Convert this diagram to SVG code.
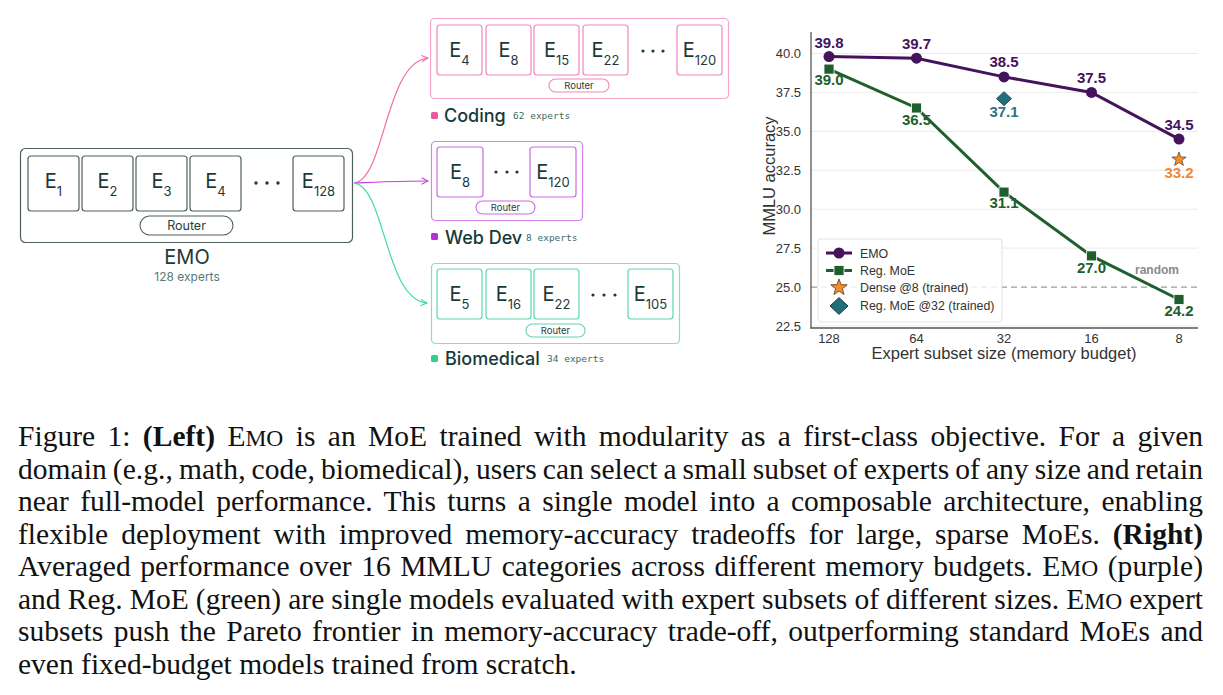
<svg xmlns="http://www.w3.org/2000/svg" width="1223" height="695" viewBox="0 0 1223 695">
<style>
.ex{fill:#fff;stroke-width:1.2}
.et{font-family:Inter,"Noto Sans",sans-serif;font-size:20px;fill:#1d3a38;text-anchor:middle}
.sub{font-size:13px}
.rt{font-family:Inter,"Noto Sans",sans-serif;fill:#2a3d3b;text-anchor:middle}
.lab{font-family:Inter,"Noto Sans",sans-serif;font-size:18px;fill:#163a38;font-weight:500}
.mono{font-family:"DejaVu Sans Mono","Liberation Mono",monospace;font-size:9.5px;fill:#3b6a66}
.ax{font-family:"Liberation Sans",Arial,sans-serif;fill:#333}
.tk{font-size:13px}
.vl{font-family:"Liberation Sans",Arial,sans-serif;font-size:15px;font-weight:bold;text-anchor:middle}
.grid{stroke:#ebebeb;stroke-width:1}
.cap{font-family:"Liberation Serif","Times New Roman",serif;font-size:29.5px;fill:#111}
.sc{font-size:23.5px}
</style>
<defs>
<marker id="ah" viewBox="0 0 10 10" refX="9" refY="5" markerWidth="8" markerHeight="8" markerUnits="userSpaceOnUse" orient="auto">
<path d="M1,1 L9,5 L1,9" fill="none" stroke="context-stroke" stroke-width="1.3"/>
</marker>
<path id="star" d="M0,-7.5 L1.82,-2.51 L7.13,-2.32 L2.95,0.96 L4.41,6.07 L0,3.1 L-4.41,6.07 L-2.95,0.96 L-7.13,-2.32 L-1.82,-2.51 Z" fill="#f28c2c" stroke="#5a3a1a" stroke-width="0.7"/>
<path id="dia" d="M0,-7 L7.5,0 L0,7 L-7.5,0 Z" fill="#226f7c" stroke="#163c40" stroke-width="0.8"/>
</defs>
<rect width="1223" height="695" fill="#fff"/>

<g id="connectors" fill="none" stroke-width="1.2">
<path d="M354,183 C385,180 385,62 428,58" stroke="#f06aa8" marker-end="url(#ah)"/>
<path d="M354,183 C380,182 400,181 428,181" stroke="#c040e0" marker-end="url(#ah)"/>
<path d="M354,183 C385,186 385,300 427,303" stroke="#3ddca0" marker-end="url(#ah)"/>
</g>

<g id="emo">
<rect x="20.5" y="148.5" width="332" height="94" rx="5" fill="#fff" stroke="#4f605d" stroke-width="1.2"/>
<g stroke="#4f605d">
<rect class="ex" x="28" y="156" width="51" height="55" rx="3"/>
<rect class="ex" x="82" y="156" width="51" height="55" rx="3"/>
<rect class="ex" x="136" y="156" width="51" height="55" rx="3"/>
<rect class="ex" x="190" y="156" width="51" height="55" rx="3"/>
<rect class="ex" x="293" y="156" width="51" height="55" rx="3"/>
</g>
<text class="et" x="53.5" y="188">E<tspan class="sub" dy="8">1</tspan></text>
<text class="et" x="107.5" y="188">E<tspan class="sub" dy="8">2</tspan></text>
<text class="et" x="161.5" y="188">E<tspan class="sub" dy="8">3</tspan></text>
<text class="et" x="215.5" y="188">E<tspan class="sub" dy="8">4</tspan></text>
<text class="et" x="318.5" y="188">E<tspan class="sub" dy="8">128</tspan></text>
<g fill="#1d3a38"><circle cx="256" cy="183" r="1.7"/><circle cx="267" cy="183" r="1.7"/><circle cx="278" cy="183" r="1.7"/></g>
<rect x="140" y="216" width="93" height="19" rx="9.5" fill="#fff" stroke="#4f605d" stroke-width="1.1"/>
<text class="rt" x="186.5" y="229.5" font-size="12.5">Router</text>
<text x="187" y="264" font-family="Inter,'Noto Sans',sans-serif" font-size="20" fill="#1d3a38" text-anchor="middle">EMO</text>
<text x="187" y="281" font-family="Inter,'Noto Sans',sans-serif" font-size="12" fill="#5a7875" text-anchor="middle">128 experts</text>
</g>

<g id="coding">
<rect x="430.5" y="18.5" width="298" height="80" rx="4" fill="#fff" stroke="#f5a5ca" stroke-width="1.2"/>
<g stroke="#ef88b9">
<rect class="ex" x="437" y="25" width="45" height="50" rx="3"/>
<rect class="ex" x="486" y="25" width="45" height="50" rx="3"/>
<rect class="ex" x="534" y="25" width="45" height="50" rx="3"/>
<rect class="ex" x="583" y="25" width="45" height="50" rx="3"/>
<rect class="ex" x="677" y="25" width="45" height="50" rx="3"/>
</g>
<text class="et" x="459.5" y="57">E<tspan class="sub" dy="8">4</tspan></text>
<text class="et" x="508.5" y="57">E<tspan class="sub" dy="8">8</tspan></text>
<text class="et" x="556.5" y="57">E<tspan class="sub" dy="8">15</tspan></text>
<text class="et" x="605.5" y="57">E<tspan class="sub" dy="8">22</tspan></text>
<text class="et" x="699.5" y="57">E<tspan class="sub" dy="8">120</tspan></text>
<g fill="#1d3a38"><circle cx="643" cy="51" r="1.6"/><circle cx="653" cy="51" r="1.6"/><circle cx="663" cy="51" r="1.6"/></g>
<rect x="549" y="79" width="60" height="13" rx="6.5" fill="#fff" stroke="#ef88b9" stroke-width="1.1"/>
<text class="rt" x="579" y="89" font-size="9.5">Router</text>
<rect x="431" y="112" width="7" height="7" rx="1.5" fill="#e95b9c"/>
<text class="lab" x="444" y="122">Coding</text>
<text class="mono" x="513" y="119">62 experts</text>
</g>

<g id="webdev">
<rect x="431.5" y="141.5" width="151" height="79" rx="4" fill="#fff" stroke="#d680ea" stroke-width="1.2"/>
<g stroke="#c96ce2">
<rect class="ex" x="437" y="147" width="46" height="50" rx="3"/>
<rect class="ex" x="530" y="147" width="46" height="50" rx="3"/>
</g>
<text class="et" x="460" y="179">E<tspan class="sub" dy="8">8</tspan></text>
<text class="et" x="553" y="179">E<tspan class="sub" dy="8">120</tspan></text>
<g fill="#1d3a38"><circle cx="496" cy="172" r="1.6"/><circle cx="507" cy="172" r="1.6"/><circle cx="517" cy="172" r="1.6"/></g>
<rect x="476" y="201" width="59" height="13" rx="6.5" fill="#fff" stroke="#c96ce2" stroke-width="1.1"/>
<text class="rt" x="505.5" y="211" font-size="9.5">Router</text>
<rect x="431" y="233" width="7" height="7" rx="1.5" fill="#b52fd8"/>
<text class="lab" x="445" y="244">Web Dev</text>
<text class="mono" x="526" y="241">8 experts</text>
</g>

<g id="biomedical">
<rect x="431.5" y="263.5" width="248" height="80" rx="4" fill="#fff" stroke="#80e2c2" stroke-width="1.2"/>
<g stroke="#5fd6ad">
<rect class="ex" x="437" y="269" width="45" height="50" rx="3"/>
<rect class="ex" x="486" y="269" width="45" height="50" rx="3"/>
<rect class="ex" x="534" y="269" width="45" height="50" rx="3"/>
<rect class="ex" x="628" y="269" width="45" height="50" rx="3"/>
</g>
<text class="et" x="459.5" y="301">E<tspan class="sub" dy="8">5</tspan></text>
<text class="et" x="508.5" y="301">E<tspan class="sub" dy="8">16</tspan></text>
<text class="et" x="556.5" y="301">E<tspan class="sub" dy="8">22</tspan></text>
<text class="et" x="650.5" y="301">E<tspan class="sub" dy="8">105</tspan></text>
<g fill="#1d3a38"><circle cx="593" cy="295" r="1.6"/><circle cx="604" cy="295" r="1.6"/><circle cx="615" cy="295" r="1.6"/></g>
<rect x="526" y="324" width="59" height="13" rx="6.5" fill="#fff" stroke="#5fd6ad" stroke-width="1.1"/>
<text class="rt" x="555.5" y="334" font-size="9.5">Router</text>
<rect x="431" y="355" width="7" height="7" rx="1.5" fill="#2fcf93"/>
<text class="lab" x="445" y="365">Biomedical</text>
<text class="mono" x="547" y="362">34 experts</text>
</g>

<g id="chart">
<g class="grid">
<line x1="811" y1="53.5" x2="1198" y2="53.5"/>
<line x1="811" y1="92.4" x2="1198" y2="92.4"/>
<line x1="811" y1="131.4" x2="1198" y2="131.4"/>
<line x1="811" y1="170.3" x2="1198" y2="170.3"/>
<line x1="811" y1="209.2" x2="1198" y2="209.2"/>
<line x1="811" y1="248.1" x2="1198" y2="248.1"/>
<line x1="811" y1="326" x2="1198" y2="326"/>
</g>
<line x1="811" y1="287.1" x2="1198" y2="287.1" stroke="#999" stroke-width="1.4" stroke-dasharray="6,4"/>
<text x="1157" y="274" font-family="'Liberation Sans',Arial,sans-serif" font-size="12" font-weight="bold" fill="#8a8a8a" text-anchor="middle">random</text>
<line x1="811" y1="32" x2="811" y2="328.5" stroke="#555" stroke-width="1.3"/>
<line x1="810.5" y1="328" x2="1198" y2="328" stroke="#555" stroke-width="1.3"/>
<g class="ax tk" text-anchor="end">
<text x="801" y="58">40.0</text>
<text x="801" y="96.9">37.5</text>
<text x="801" y="135.9">35.0</text>
<text x="801" y="174.8">32.5</text>
<text x="801" y="213.7">30.0</text>
<text x="801" y="252.6">27.5</text>
<text x="801" y="291.6">25.0</text>
<text x="801" y="330.5">22.5</text>
</g>
<g class="ax tk" text-anchor="middle">
<text x="829" y="343">128</text>
<text x="916.5" y="343">64</text>
<text x="1004" y="343">32</text>
<text x="1091.5" y="343">16</text>
<text x="1179" y="343">8</text>
</g>
<text class="ax" x="1004" y="359" font-size="16.5" text-anchor="middle">Expert subset size (memory budget)</text>
<text class="ax" transform="translate(775,176) rotate(-90)" font-size="16.5" text-anchor="middle">MMLU accuracy</text>

<polyline points="829,69.1 916.5,108 1004,192.1 1091.5,255.9 1179,299.5" fill="none" stroke="#1f5e2d" stroke-width="3"/>
<g fill="#1f5e2d" stroke="#fff" stroke-width="0.8">
<rect x="824" y="64.1" width="10" height="10"/>
<rect x="911.5" y="103" width="10" height="10"/>
<rect x="999" y="187.1" width="10" height="10"/>
<rect x="1086.5" y="250.9" width="10" height="10"/>
<rect x="1174" y="294.5" width="10" height="10"/>
</g>
<polyline points="829,56.6 916.5,58.2 1004,76.9 1091.5,92.4 1179,139.1" fill="none" stroke="#45135c" stroke-width="3"/>
<g fill="#45135c">
<circle cx="829" cy="56.6" r="5.5"/>
<circle cx="916.5" cy="58.2" r="5.5"/>
<circle cx="1004" cy="76.9" r="5.5"/>
<circle cx="1091.5" cy="92.4" r="5.5"/>
<circle cx="1179" cy="139.1" r="5.5"/>
</g>
<use href="#dia" x="1004" y="98.7"/>
<use href="#star" x="1179" y="159.4"/>

<g class="vl" fill="#45135c">
<text x="829" y="48">39.8</text>
<text x="916.5" y="49">39.7</text>
<text x="1004" y="67">38.5</text>
<text x="1091.5" y="83">37.5</text>
<text x="1179" y="130">34.5</text>
</g>
<g class="vl" fill="#1f5e2d">
<text x="829" y="85">39.0</text>
<text x="916.5" y="125">36.5</text>
<text x="1004" y="208">31.1</text>
<text x="1091.5" y="273">27.0</text>
<text x="1179" y="316">24.2</text>
</g>
<text class="vl" x="1004" y="117" fill="#2a7580">37.1</text>
<text class="vl" x="1179" y="178" fill="#f08a2a">33.2</text>

<g id="legend">
<rect x="818" y="239" width="184" height="83" rx="3" fill="#fff" fill-opacity="0.8" stroke="#e2e2e2" stroke-width="1"/>
<line x1="826" y1="253" x2="852" y2="253" stroke="#45135c" stroke-width="3"/>
<circle cx="839" cy="253" r="5.5" fill="#45135c"/>
<line x1="826" y1="270.5" x2="852" y2="270.5" stroke="#1f5e2d" stroke-width="3"/>
<rect x="834" y="265.5" width="10" height="10" fill="#1f5e2d" stroke="#fff" stroke-width="0.8"/>
<use href="#star" transform="translate(839,287.5) scale(1.15)"/>
<use href="#dia" transform="translate(839,306) scale(1.2)"/>
<g class="ax" font-size="12.4">
<text x="860" y="257.5">EMO</text>
<text x="860" y="275">Reg. MoE</text>
<text x="860" y="292">Dense @8 (trained)</text>
<text x="860" y="310">Reg. MoE @32 (trained)</text>
</g>
</g>
</g>

<g id="caption" class="cap">
<text x="18" y="446" word-spacing="5" textLength="1185" lengthAdjust="spacing">Figure 1: <tspan font-weight="bold">(Left)</tspan> E<tspan class="sc">MO</tspan> is an MoE trained with modularity as a first-class objective. For a given</text>
<text x="18" y="478.5" word-spacing="-1.4" textLength="1185" lengthAdjust="spacing">domain (e.g., math, code, biomedical), users can select a small subset of experts of any size and retain</text>
<text x="18" y="511" word-spacing="4" textLength="1185" lengthAdjust="spacing">near full-model performance. This turns a single model into a composable architecture, enabling</text>
<text x="18" y="543.5" word-spacing="5.6" textLength="1185" lengthAdjust="spacing">flexible deployment with improved memory-accuracy tradeoffs for large, sparse MoEs. <tspan font-weight="bold">(Right)</tspan></text>
<text x="18" y="576" word-spacing="2.1" textLength="1185" lengthAdjust="spacing">Averaged performance over 16 MMLU categories across different memory budgets. E<tspan class="sc">MO</tspan> (purple)</text>
<text x="18" y="608.5" word-spacing="-0.3" textLength="1185" lengthAdjust="spacing">and Reg. MoE (green) are single models evaluated with expert subsets of different sizes. E<tspan class="sc">MO</tspan> expert</text>
<text x="18" y="641" word-spacing="3" textLength="1185" lengthAdjust="spacing">subsets push the Pareto frontier in memory-accuracy trade-off, outperforming standard MoEs and</text>
<text x="18" y="673.5">even fixed-budget models trained from scratch.</text>
</g>
</svg>
